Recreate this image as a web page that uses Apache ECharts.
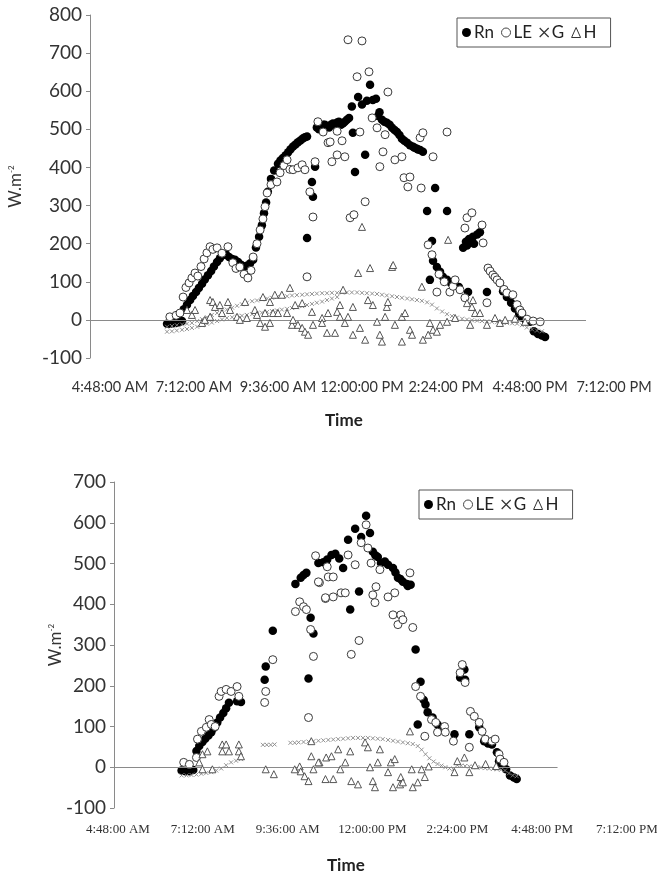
<!DOCTYPE html>
<html>
<head>
<meta charset="utf-8">
<script src="https://cdn.jsdelivr.net/npm/echarts@6/dist/echarts.min.js"></script>
<style>html,body{margin:0;padding:0;background:#fff;}#c{width:657px;height:876px;}</style>
</head>
<body>
<div id="c"></div>
<script>
// ---- tick labels (hours of day) ----
const xTicks = [4.8, 7.2, 9.6, 12, 14.4, 16.8, 19.2];
const yTicksTop = [-100, 800, 100];   // min, max, step
const yTicksBot = [-100, 700, 100];
const seriesNames = ['Rn', 'LE', 'G', 'H'];

// ---- top panel: [hour, W/m2] ----
const rnTop = [[6.43,-10],[6.51,-10],[6.6,-9],[6.69,-8],[6.77,-6],[6.86,-3],
[6.91,28],[7.0,40],[7.09,52],[7.17,63],[7.26,73],[7.34,84],[7.43,95],[7.51,106],[7.6,117],[7.69,128],[7.77,140],[7.86,152],[7.94,162],[8.03,170],[8.11,172],[8.2,165],[8.29,160],[8.37,158],[8.46,152],[8.54,145],[8.63,140],[8.71,142],[8.8,148],[8.89,158],[8.97,190],[9.06,218],[9.14,248],[9.2,280],[9.26,308],[9.31,336],[9.4,370],[9.49,392],[9.6,410],[9.67,418],[9.74,425],[9.82,432],[9.89,440],[9.96,448],[10.03,455],[10.1,460],[10.17,466],[10.24,471],[10.31,476],[10.37,479],[10.43,481],
[10.43,215],[10.57,362],[10.6,323],[10.66,402],
[10.71,505],[10.77,500],[10.83,508],[10.89,512],[10.94,512],[11.0,508],[11.06,505],[11.11,512],[11.17,515],[11.23,510],[11.29,518],[11.34,520],[11.4,512],[11.46,516],[11.51,520],[11.57,525],[11.63,530],[11.71,560],[11.74,491],[11.8,388],[11.89,585],[12.0,565],[12.09,433],[12.14,575],[12.23,617],[12.31,577],[12.4,580],[12.46,535],[12.5,545],[12.57,525],[12.64,520],[12.71,517],[12.79,512],[12.86,504],[12.93,498],[13.0,493],[13.07,485],[13.14,475],[13.21,470],[13.29,465],[13.37,458],[13.46,454],[13.5,452],[13.57,449],[13.6,447],[13.66,446],[13.74,441],
[13.86,286],[14.09,346],[14.43,286],[14.0,207],[13.94,105],[14.03,155],[14.14,139],[14.23,126],[14.31,113],[14.43,105],[14.54,97],[14.66,90],[14.77,86],[15.03,73],[15.57,73],
[14.89,189],[14.97,205],[15.0,195],[15.06,212],[15.17,218],[15.2,200],[15.29,224],[15.37,230],
[15.94,97],[16.03,75],[16.14,60],[16.26,45],[16.37,30],[16.49,16],[16.57,6],[16.69,-3],[16.8,-5],[16.91,-30],[17.03,-37],[17.14,-41],[17.23,-45]];

const leTop = [[6.51,8],[6.69,12],[6.8,18],[6.89,60],[6.97,85],[7.06,97],[7.14,110],[7.23,123],[7.31,115],[7.4,140],[7.49,160],[7.57,176],[7.66,192],[7.74,185],[7.86,189],[8.0,175],[8.17,192],[8.31,150],[8.4,135],[8.51,139],[8.63,120],[8.74,110],[8.83,130],[8.89,165],[9.0,200],[9.09,236],[9.17,265],[9.23,297],[9.29,333],[9.4,355],[9.57,362],[9.66,386],[9.77,405],[9.86,420],[9.94,395],[10.03,394],[10.17,399],[10.29,407],[10.37,394],[10.43,113],[10.51,336],[10.6,270],[10.66,415],[10.74,520],[10.89,493],[11.03,465],[11.09,467],[11.14,415],[11.29,495],[11.29,433],[11.43,470],[11.51,428],[11.6,735],[11.66,268],[11.77,276],[11.86,638],[11.94,493],[12.0,732],[12.09,310],[12.2,651],[12.29,530],[12.43,504],[12.51,402],[12.6,441],[12.66,486],[12.74,598],[12.94,420],[13.14,428],[13.2,373],[13.31,349],[13.37,375],[13.66,478],[13.69,346],[13.74,491],[14.03,428],[14.43,493],[13.89,197],[14.0,171],[14.14,73],[14.2,120],[14.35,100],[14.51,73],[14.6,88],[14.66,105],[14.8,79],[14.94,58],[14.94,241],[15.0,268],[15.14,281],[15.43,249],[15.46,202],[15.57,45],[15.6,136],[15.66,128],[15.74,118],[15.8,112],[15.86,105],[15.94,97],[16.06,80],[16.14,71],[16.31,66],[16.43,40],[16.51,26],[16.57,18],[16.71,2],[16.89,-3],[17.09,-5]];

const gTop = [[6.43,-18],[6.57,-16],[6.71,-14],[6.86,-12],[7.0,-10],[7.14,-8],[7.29,-3],[7.43,2],[7.57,7],[7.71,13],[7.86,18],[8.0,22],[8.14,27],[8.29,32],[8.43,37],[8.57,41],[8.71,45],[8.86,49],[9.0,51],[9.14,54],[9.29,56],[9.43,58],[9.57,60],[9.71,61],[9.86,62],
[10.0,64],[10.14,65],[10.29,66],[10.43,67],[10.57,68],[10.71,69],[10.86,70],[11.0,70],[11.14,71],[11.29,71],[11.43,72],[11.57,72],[11.71,72],[11.86,72],[12.0,71],[12.14,70],[12.29,69],[12.43,68],[12.57,66],[12.71,64],[12.86,62],[13.0,60],[13.14,58],[13.29,56],[13.43,54],[13.57,52],[13.71,50],[13.86,46],[14.0,40],[14.14,30],[14.29,22],[14.43,15],[14.57,10],[14.71,6],[14.86,3],[15.0,1],[15.14,-1],[15.29,-2],[15.43,-3],[15.57,-4],[15.71,-5],[15.86,-6],[16.0,-7],[16.14,-8],[16.29,-9],[16.43,-10],[16.57,-14],[16.71,-20],[16.86,-25],[17.0,-28],[17.14,-30],
[6.43,-31],[6.57,-30],[6.71,-28],[6.86,-26],[7.0,-24],[7.14,-21],[7.29,-18],[7.43,-14],[7.57,-10],[7.71,-7],[7.86,-3],[8.0,1],[8.14,5],[8.29,7],[8.43,9],[8.57,11],[8.71,13],[8.86,15],[9.0,17],[9.14,19],[9.29,21],[9.43,23],[9.57,25],[9.71,27],[9.86,29],[10.0,31],[10.14,33],[10.29,36],[10.43,39],[10.57,42],[10.71,45],[10.86,48],[11.0,52],[11.14,56],[11.29,60]];

const hTop = [[7.0,26],[7.14,13],[7.23,26],[7.43,-8],[7.51,0],[7.66,52],[7.66,8],[7.74,47],[7.8,34],[7.94,39],[8.0,18],[8.17,47],[8.23,26],[8.43,8],[8.51,0],[8.66,47],[8.71,5],[8.94,26],[9.0,13],[9.09,-8],[9.17,60],[9.23,18],[9.23,-18],[9.37,47],[9.37,-8],[9.46,18],[9.51,66],[9.6,18],[9.71,66],[9.86,18],[9.94,84],[10.0,-13],[10.03,0],[10.09,39],[10.17,-13],[10.29,44],[10.29,-21],[10.37,-31],[10.46,-39],[10.57,21],[10.6,-13],[10.86,5],[10.86,-8],[11.0,-34],[11.03,18],[11.23,-34],[11.29,21],[11.37,39],[11.37,8],[11.46,79],[11.51,-8],[11.6,8],[11.74,34],[11.74,-39],[11.89,123],[11.94,-21],[12.0,244],[12.09,-52],[12.17,52],[12.23,136],[12.31,39],[12.43,-5],[12.51,-39],[12.57,-57],[12.66,8],[12.71,34],[12.74,47],[12.86,139],[12.89,144],[12.94,-13],[13.14,8],[13.14,-57],[13.23,18],[13.37,-26],[13.43,-39],[13.71,87],[13.74,-52],[13.89,-39],[13.94,-8],[14.03,-26],[14.14,-31],[14.23,-13],[14.43,-5],[14.46,210],[14.66,5],[15.0,44],[15.09,-13],[15.14,34],[15.17,52],[15.23,18],[15.37,18],[15.57,-13],[15.8,5],[15.94,-8],[16.09,0],[16.37,3],[16.66,-5]];

// ---- bottom panel: [hour, W/m2] ----
const rnBot = [[6.6,-8],[6.71,-10],[6.82,-10],[6.93,-7],[7.02,40],[7.1,52],[7.19,62],[7.27,70],[7.36,78],[7.44,86],[7.52,97],[7.61,110],[7.69,122],[7.78,133],[7.86,145],[7.94,158],[8.17,162],[8.28,160],[8.95,215],[8.98,247],[9.18,335],[9.82,450],[9.97,465],[10.05,472],[10.13,477],[10.19,218],[10.25,367],[10.33,328],[10.47,501],[10.61,503],[10.72,510],[10.84,521],[10.95,524],[11.06,512],[11.17,489],[11.31,558],[11.37,387],[11.51,585],[11.62,431],[11.68,565],[11.82,617],[11.93,575],[12.01,529],[12.08,520],[12.15,516],[12.24,501],[12.35,505],[12.44,497],[12.58,489],[12.65,478],[12.72,465],[12.79,462],[12.86,455],[12.97,450],[13.0,445],[13.08,448],[13.22,289],[13.28,105],[13.36,210],[13.45,165],[13.5,154],[13.56,135],[13.7,122],[13.84,105],[13.98,98],[14.32,81],[14.48,220],[14.6,240],[14.62,215],[14.74,81],[15.02,98],[15.16,64],[15.27,58],[15.38,56],[15.52,37],[15.58,15],[15.66,5],[15.78,-5],[15.89,-20],[16.0,-25],[16.08,-29]];

const leBot = [[6.66,12],[6.82,7],[7.02,24],[7.05,69],[7.16,88],[7.3,98],[7.38,117],[7.44,105],[7.55,100],[7.66,174],[7.72,186],[7.86,191],[8.0,186],[8.17,198],[8.22,174],[8.95,159],[8.98,186],[9.18,264],[9.82,382],[9.94,406],[10.05,394],[10.13,387],[10.25,338],[10.33,272],[10.19,122],[10.39,519],[10.5,453],[10.47,455],[10.67,414],[10.72,492],[10.75,467],[10.89,467],[10.67,416],[10.89,418],[11.11,428],[11.23,428],[11.31,521],[11.51,497],[11.4,277],[11.62,311],[11.68,551],[11.82,595],[11.87,538],[11.96,501],[12.01,423],[12.07,404],[12.1,443],[12.21,485],[12.44,418],[12.63,428],[12.58,374],[12.72,350],[12.8,374],[12.86,362],[13.06,477],[13.14,343],[13.22,198],[13.36,174],[13.48,76],[13.67,117],[13.79,110],[13.84,86],[14.04,100],[14.06,86],[14.29,64],[14.54,252],[14.48,232],[14.62,208],[14.74,49],[14.77,137],[14.88,125],[15.02,110],[15.1,88],[15.19,69],[15.38,64],[15.47,69],[15.58,32],[15.61,20],[15.72,12]];

const gBot = [[6.6,-20],[6.74,-20],[6.88,-19],[7.02,-18],[7.16,-16],[7.3,-14],[7.44,-12],[7.58,-8],[7.72,-3],[7.86,5],[8.0,12],[8.14,16],[8.28,20],[8.9,55],[9.01,55],[9.12,55],[9.23,56],[9.68,60],[9.8,60],[9.91,61],[10.05,62],[10.19,63],[10.33,64],[10.47,65],[10.61,66],[10.75,67],[10.89,68],[11.03,69],[11.17,70],[11.31,71],[11.45,72],[11.59,72],[11.73,72],[11.87,72],[12.01,71],[12.15,70],[12.29,69],[12.44,67],[12.58,65],[12.72,63],[12.86,61],[13.0,59],[13.14,57],[13.28,52],[13.39,43],[13.5,32],[13.61,22],[13.73,14],[13.84,8],[13.95,4],[14.06,0],[14.18,-3],[14.29,-5],[14.4,5],[14.51,4],[14.62,3],[14.74,2],[14.85,1],[14.96,0],[15.07,-1],[15.19,-2],[15.3,-3],[15.41,-4],[15.52,-5],[15.64,-6],[15.75,-8],[15.86,-15],[15.97,-20],[16.08,-22]];

const hBot = [[7.1,12],[7.19,32],[7.33,39],[7.19,-5],[7.47,-5],[7.75,56],[7.86,56],[7.75,39],[7.94,39],[8.22,56],[8.22,39],[8.28,27],[8.98,-5],[9.21,-17],[9.8,-5],[9.94,2],[9.97,-10],[10.08,-22],[10.19,-34],[10.33,-5],[10.27,27],[10.27,64],[10.5,12],[10.47,12],[10.69,24],[10.84,27],[11.03,44],[11.23,12],[10.67,-29],[10.89,-29],[11.09,-5],[11.37,39],[11.4,-34],[11.59,-42],[11.79,61],[11.87,49],[11.93,0],[12.01,-34],[12.07,-49],[12.15,12],[12.21,44],[12.44,-12],[12.52,12],[12.63,20],[12.58,-49],[12.78,-42],[12.8,-24],[12.86,-37],[13.06,88],[13.14,-49],[13.28,-37],[13.48,-24],[13.11,-5],[13.39,-5],[13.59,2],[14.32,-12],[14.4,15],[14.6,24],[14.74,-12],[14.9,5],[15.2,8],[15.5,3]];

// ---- drawing ----
const chart = echarts.init(document.getElementById('c'), null, {renderer: 'canvas'});
const SANS = 'Lato, "Open Sans", sans-serif';
const AXC = '#8a8a8a';
const XPATH = 'path://M0,0L10,10M10,0L0,10';

function fmtTime(h) {
  const tot = Math.round(h * 60);
  const H = Math.floor(tot / 60), M = tot % 60;
  const ap = H >= 12 ? 'PM' : 'AM';
  let h12 = H % 12; if (h12 === 0) h12 = 12;
  return h12 + ':' + String(M).padStart(2, '0') + ':00 ' + ap;
}

function xAxisCfg(grid, min, labelFont, labelSize, margin) {
  return {
    type: 'value', gridIndex: grid, min: min, max: xTicks[xTicks.length - 1],
    axisLine: {show: false}, axisTick: {show: false}, splitLine: {show: false},
    axisLabel: {
      customValues: xTicks, formatter: fmtTime, margin: margin,
      fontFamily: labelFont, fontSize: labelSize, color: '#333', showMinLabel: true, showMaxLabel: true
    }
  };
}
function yAxisCfg(grid, ticks, gap) {
  return {
    type: 'value', gridIndex: grid, min: ticks[0], max: ticks[1], interval: ticks[2],
    axisLine: {show: true, lineStyle: {color: AXC, width: 1}},
    axisTick: {show: true, length: 4, lineStyle: {color: AXC}},
    splitLine: {show: false},
    axisLabel: {fontFamily: SANS, fontSize: 19, color: '#333', margin: 8},
    name: 'W.m{sup|-2}', nameLocation: 'middle', nameGap: gap, nameRotate: 90,
    nameMoveOverlap: false,
    nameTextStyle: {fontFamily: SANS, fontSize: 17, color: '#333',
      rich: {sup: {fontFamily: SANS, fontSize: 8, color: '#333', padding: [0, 0, 9, 0]}}}
  };
}
function series(grid, rn, le, g, h, zeroFrom, zeroTo) {
  return [
    {name: 'Rn', type: 'scatter', xAxisIndex: grid, yAxisIndex: grid, data: rn, symbol: 'circle', symbolSize: 8.5,
      itemStyle: {color: '#000', opacity: 1}, z: 3,
      markLine: {silent: true, symbol: 'none', label: {show: false}, lineStyle: {color: AXC, width: 1, type: 'solid'},
        data: [[{coord: [zeroFrom, 0]}, {coord: [zeroTo, 0]}]]}},
    {name: 'LE', type: 'scatter', xAxisIndex: grid, yAxisIndex: grid, data: le, symbol: 'circle', symbolSize: 8,
      itemStyle: {color: '#fff', borderColor: '#3a3a3a', borderWidth: 1, opacity: 1}, z: 4},
    {name: 'G', type: 'scatter', xAxisIndex: grid, yAxisIndex: grid, data: g, symbol: XPATH, symbolSize: 4,
      itemStyle: {color: 'rgba(0,0,0,0)', borderColor: '#888', borderWidth: 0.9, opacity: 1}, z: 5},
    {name: 'H', type: 'scatter', xAxisIndex: grid, yAxisIndex: grid, data: h, symbol: 'triangle', symbolSize: 7,
      itemStyle: {color: '#fff', borderColor: '#444', borderWidth: 0.9, opacity: 1}, z: 6}
  ];
}
function legendCfg(left, top) {
  return {
    left: left, top: top, orient: 'horizontal', itemGap: 7, itemWidth: 9, itemHeight: 10,
    padding: [6, 14, 6, 5], borderColor: '#555', borderWidth: 1, backgroundColor: '#fff',
    textStyle: {fontFamily: SANS, fontSize: 17, color: '#222', padding: [0, 0, 0, -2]},
    data: [
      {name: 'Rn', icon: 'circle'},
      {name: 'LE', icon: 'circle', itemStyle: {color: '#fff', borderColor: '#444', borderWidth: 1}},
      {name: 'G', icon: XPATH, itemStyle: {color: 'rgba(0,0,0,0)', borderColor: '#333', borderWidth: 1.2}},
      {name: 'H', icon: 'triangle', itemStyle: {color: '#fff', borderColor: '#333', borderWidth: 1}}
    ]
  };
}

chart.setOption({
  animation: false,
  backgroundColor: '#fff',
  title: [
    {text: 'Time', left: 325, top: 412, padding: 0,
      textStyle: {fontFamily: SANS, fontWeight: 'bold', fontSize: 17, color: '#222'}},
    {text: 'Time', left: 327, top: 857, padding: 0,
      textStyle: {fontFamily: SANS, fontWeight: 'bold', fontSize: 17, color: '#222'}}
  ],
  legend: [legendCfg(457, 18), legendCfg(419, 490)],
  grid: [
    {left: 90, top: 15, width: 524, height: 343, outerBoundsMode: 'none', containLabel: false},
    {left: 114, top: 482, width: 513, height: 326, outerBoundsMode: 'none', containLabel: false}
  ],
  xAxis: [
    xAxisCfg(0, 4.229, SANS, 14.5, 22),
    xAxisCfg(1, 4.688, '"Liberation Serif", serif', 13, 15)
  ],
  yAxis: [yAxisCfg(0, yTicksTop, 66), yAxisCfg(1, yTicksBot, 50)],
  series: [].concat(series(0, rnTop, leTop, gTop, hTop, 4.229, 18.4),
                    series(1, rnBot, leBot, gBot, hBot, 4.688, 17.235))
});
</script>
</body>
</html>
